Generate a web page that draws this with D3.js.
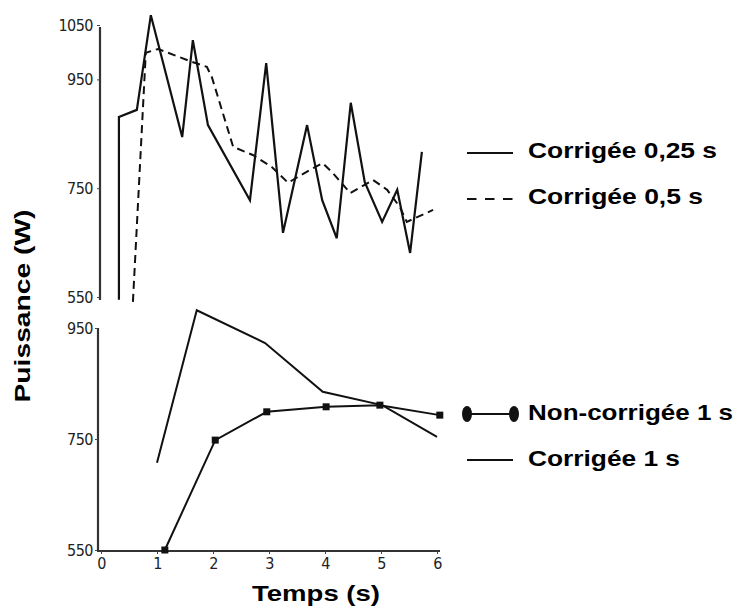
<!DOCTYPE html>
<html><head><meta charset="utf-8">
<script src="https://cdn.jsdelivr.net/npm/d3@7"></script>
<style>body{margin:0;background:#fff}svg{display:block}</style>
</head><body>
<svg id="c" width="739" height="607"></svg>
<script>
// ---- data ----
const timeQ = [0.32,0.32,0.64,0.89,1.45,1.64,1.91,2.66,2.95,3.25,3.68,3.95,4.21,4.46,4.71,5.02,5.29,5.52,5.73];
const corrigee025 = [545,881,894,1068,844,1022,866,728,980,668,866,728,658,907,761,688,747,631,817];
const timeH = [0.57,0.80,1.02,1.63,1.89,1.98,2.36,2.71,3.05,3.34,3.79,3.96,4.14,4.45,4.86,5.11,5.34,5.46,5.93];
const corrigee05 = [541,999,1006,982,973,954,826,811,789,760,787,796,778,741,765,747,715,688,710];
const timeNC = [1.14,2.04,2.96,4.02,4.98,6.05];
const nonCorrigee1 = [550,748,799,808,811,793];
const timeC1 = [1.0,1.71,2.93,3.96,5.02,6.0];
const corrigee1 = [707,982,923,835,811,754];
const xTicks = [0,1,2,3,4,5,6];
const yTicksTop = [550,750,950,1050];
const yTicksBottom = [550,750,950];
const legendTop = ["Corrigée 0,25 s","Corrigée 0,5 s"];
const legendBottom = ["Non-corrigée 1 s","Corrigée 1 s"];

const svg = d3.select("#c");
const ink = "#111";
const x = d3.scaleLinear().domain([0,6]).range([101,437]);
const yTop = d3.scaleLinear().domain([550,1050]).range([297,25]);
const yBot = d3.scaleLinear().domain([550,950]).range([550,328]);
const fmt = d3.format("d");

// axes
const gTopAxis = svg.append("g").attr("transform","translate(100,0)")
  .call(d3.axisLeft(yTop).tickValues(yTicksTop).tickFormat(fmt).tickSize(3).tickPadding(4));
const gBotAxis = svg.append("g").attr("transform","translate(98,0)")
  .call(d3.axisLeft(yBot).tickValues(yTicksBottom).tickFormat(fmt).tickSize(3).tickPadding(2));
const gX = svg.append("g").attr("transform","translate(0,551)")
  .call(d3.axisBottom(x).tickValues(xTicks).tickFormat(fmt).tickSize(3).tickPadding(4));
[gTopAxis,gBotAxis,gX].forEach(g=>{
  g.selectAll("path.domain").attr("stroke","#333").attr("stroke-width",2.2);
  g.selectAll(".tick line").attr("stroke","#444").attr("stroke-width",1);
  g.selectAll("text").attr("font-family","'DejaVu Sans Condensed','DejaVu Sans',sans-serif")
    .attr("font-size",16).attr("fill","#222").attr("letter-spacing","-0.5");
});
gTopAxis.select("path.domain").attr("d","M0,27V300");
gBotAxis.select("path.domain").attr("d","M0,328V551");
gX.select("path.domain").attr("d","M97,0H440");

// series
const lineTop = d3.line().x(d=>x(d[0])).y(d=>yTop(d[1]));
const lineBot = d3.line().x(d=>x(d[0])).y(d=>yBot(d[1]));
svg.append("path").datum(d3.zip(timeQ,corrigee025)).attr("d",lineTop)
  .attr("fill","none").attr("stroke",ink).attr("stroke-width",2.2).attr("stroke-linejoin","miter");
svg.append("path").datum(d3.zip(timeH,corrigee05)).attr("d",lineTop)
  .attr("fill","none").attr("stroke",ink).attr("stroke-width",2).attr("stroke-dasharray","8,5");
svg.append("path").datum(d3.zip(timeC1,corrigee1)).attr("d",lineBot)
  .attr("fill","none").attr("stroke",ink).attr("stroke-width",2);
svg.append("path").datum(d3.zip(timeNC,nonCorrigee1)).attr("d",lineBot)
  .attr("fill","none").attr("stroke",ink).attr("stroke-width",2);
svg.append("g").selectAll("rect").data(d3.zip(timeNC,nonCorrigee1)).join("rect")
  .attr("x",d=>x(d[0])-3.5).attr("y",d=>yBot(d[1])-3.5).attr("width",7).attr("height",7)
  .attr("fill",ink);

// axis titles
const font = "'Liberation Sans',Arial,sans-serif";
svg.append("text").attr("transform","translate(30,306) rotate(-90)")
  .attr("text-anchor","middle").attr("font-family",font).attr("font-weight","bold")
  .attr("font-size",22).attr("textLength",193).attr("lengthAdjust","spacingAndGlyphs")
  .text("Puissance (W)");
svg.append("text").attr("x",316).attr("y",601)
  .attr("text-anchor","middle").attr("font-family",font).attr("font-weight","bold")
  .attr("font-size",22).attr("textLength",128).attr("lengthAdjust","spacingAndGlyphs")
  .text("Temps (s)");

// legends
function legText(t,yb,len){
  svg.append("text").attr("x",528).attr("y",yb).attr("font-family",font).attr("font-weight","bold")
    .attr("font-size",22).attr("textLength",len).attr("lengthAdjust","spacingAndGlyphs").text(t);
}
svg.append("line").attr("x1",467).attr("x2",513).attr("y1",153).attr("y2",153).attr("stroke",ink).attr("stroke-width",2.2);
legText(legendTop[0],158,189);
svg.append("line").attr("x1",467).attr("x2",513).attr("y1",199).attr("y2",199).attr("stroke",ink).attr("stroke-width",2.2).attr("stroke-dasharray","9.5,8.5");
legText(legendTop[1],204,175);
svg.append("line").attr("x1",467).attr("x2",514).attr("y1",414).attr("y2",414).attr("stroke",ink).attr("stroke-width",2.2);
svg.append("ellipse").attr("cx",467).attr("cy",414).attr("rx",5).attr("ry",8).attr("fill",ink);
svg.append("ellipse").attr("cx",514).attr("cy",414).attr("rx",5).attr("ry",8).attr("fill",ink);
legText(legendBottom[0],420,205);
svg.append("line").attr("x1",467).attr("x2",513).attr("y1",460).attr("y2",460).attr("stroke",ink).attr("stroke-width",2.2);
legText(legendBottom[1],466,152);
</script>
</body></html>
